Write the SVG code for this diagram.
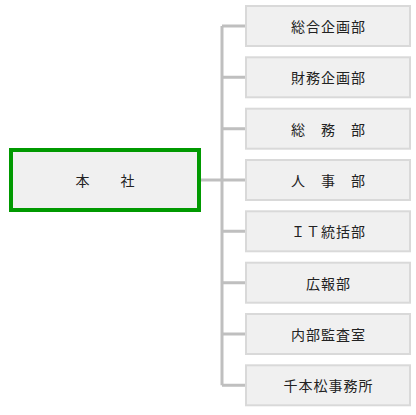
<svg xmlns="http://www.w3.org/2000/svg" width="416" height="415" viewBox="0 0 416 415">
<style>
.dept rect{fill:#f0f0f0;stroke:#d9d9d9;stroke-width:2}
.main rect{fill:#f0f0f0;stroke:#009900;stroke-width:4}
text{font-family:"Noto Sans CJK JP","Noto Sans",sans-serif;font-size:14px;fill:#222;text-anchor:middle;dominant-baseline:central;letter-spacing:1px}
.conn{fill:none;stroke:#bfbfbf;stroke-width:3}
</style>
<rect width="416" height="415" fill="#ffffff"/>
<g id="connectors">
<path class="conn" d="M201 180H222M222 26V385.3M222 26H246M222 77.3H246M222 128.7H246M222 180H246M222 231.3H246M222 282.7H246M222 334H246M222 385.3H246"/>
</g>
<g id="honsha" class="main"><rect x="11" y="150" width="188" height="60"/><text x="105.5" y="180">本　　社</text></g>
<g id="d1" class="dept"><rect x="246" y="6" width="164" height="40"/><text x="328.5" y="26">総合企画部</text></g>
<g id="d2" class="dept"><rect x="246" y="57.3" width="164" height="40"/><text x="328.5" y="77.3">財務企画部</text></g>
<g id="d3" class="dept"><rect x="246" y="108.7" width="164" height="40"/><text x="328.5" y="128.7">総　務　部</text></g>
<g id="d4" class="dept"><rect x="246" y="160" width="164" height="40"/><text x="328.5" y="180">人　事　部</text></g>
<g id="d5" class="dept"><rect x="246" y="211.3" width="164" height="40"/><text x="328.5" y="231.3">ＩＴ統括部</text></g>
<g id="d6" class="dept"><rect x="246" y="262.7" width="164" height="40"/><text x="328.5" y="282.7">広報部</text></g>
<g id="d7" class="dept"><rect x="246" y="314" width="164" height="40"/><text x="328.5" y="334">内部監査室</text></g>
<g id="d8" class="dept"><rect x="246" y="365.3" width="164" height="40"/><text x="328.5" y="385.3">千本松事務所</text></g>
</svg>
